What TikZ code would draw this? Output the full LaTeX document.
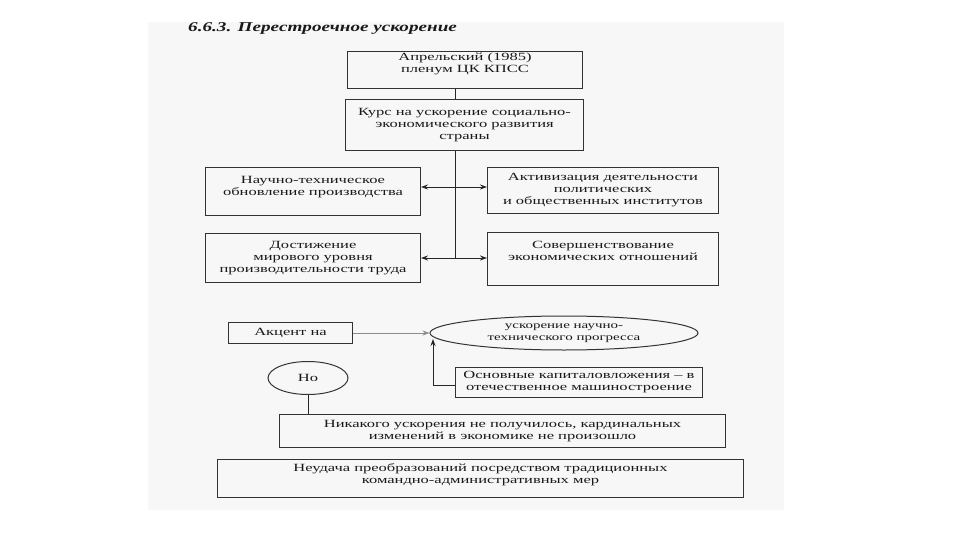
\documentclass[tikz,border=0pt]{standalone}
\usepackage{fontspec}
\setmainfont{Liberation Serif}[FakeStretch=1.5]
\newfontfamily\titlefont{Liberation Serif}[FakeStretch=1.42]
\usetikzlibrary{arrows.meta,shapes.geometric}
\tikzset{
  box/.style={draw=black!80, line width=1pt, align=center, inner sep=0pt, font=\fontsize{11}{12}\selectfont, text=black!90},
  link/.style={draw=black!85, line width=1pt},
  arr/.style={link, -{Stealth[length=7pt,width=5pt]}},
  softarr/.style={draw=black!45, line width=0.6pt, -{Stealth[length=7pt,width=5pt]}}
}
\begin{document}
\begin{tikzpicture}[x=1pt,y=-1pt]
\useasboundingbox (0,0) rectangle (960,540);
\fill[white] (0,0) rectangle (960,540);
\fill[black!3] (148,22) rectangle (784,510);
\node[anchor=base west, font=\titlefont\fontsize{13.5}{15}\selectfont\bfseries\itshape, text=black!90, inner sep=0pt] (title) at (188,32) {6.6.3. Перестроечное ускорение};

\node[box, minimum width=235pt, minimum height=37pt, anchor=north west, text depth=14pt] (b1) at (347,51) {Апрельский (1985)\\пленум ЦК КПСС};
\node[box, minimum width=238pt, minimum height=51pt, anchor=north west] (b2) at (345,99) {Курс на ускорение социально-\\экономического развития\\страны};
\node[box, minimum width=215pt, minimum height=48pt, anchor=north west, text depth=12pt] (b3) at (205,167) {Научно-техническое\\обновление производства};
\node[box, minimum width=231pt, minimum height=46pt, anchor=north west] (b4) at (487,167) {Активизация деятельности\\политических\\и общественных институтов};
\node[box, minimum width=215pt, minimum height=49pt, anchor=north west] (b5) at (205,233) {Достижение\\мирового уровня\\производительности труда};
\node[box, minimum width=231pt, minimum height=53pt, anchor=north west, text depth=16pt] (b6) at (487,232) {Совершенствование\\экономических отношений};

\coordinate (j1) at (455,187);
\coordinate (j2) at (455,258);
\draw[link] (b1.south -| j1) -- (b2.north -| j1);
\draw[link] (b2.south -| j1) -- (j2);
\draw[arr] (j1) -- (b3.east |- j1);
\draw[arr] (j1) -- (b4.west |- j1);
\draw[arr] (j2) -- (b5.east |- j2);
\draw[arr] (j2) -- (b6.west |- j2);

\node[box, minimum width=124pt, minimum height=21pt, anchor=north west] (acc) at (228,322) {Акцент на};
\node[box, ellipse, minimum width=268pt, minimum height=34pt, font=\fontsize{10}{11.5}\selectfont] (ell) at (564,333) {ускорение научно-\\технического прогресса};
\node[box, minimum width=247pt, minimum height=30pt, anchor=north west] (inv) at (455,367) {Основные капиталовложения -- в\\отечественное машиностроение};
\coordinate (up) at (433,339);
\draw[softarr] (acc.east) -- (ell.west |- acc.east);
\draw[arr] (inv.west |- 0,385) -| (up);

\node[box, ellipse, minimum width=80pt, minimum height=33pt] (no) at (308,378) {Но};
\node[box, minimum width=446pt, minimum height=33pt, anchor=north west] (res) at (279,414) {Никакого ускорения не получилось, кардинальных\\изменений в экономике не произошло};
\draw[link] (no.south) -- (no.south |- res.north);

\node[box, minimum width=526pt, minimum height=38pt, anchor=north west, text depth=10pt] (fail) at (217,459) {Неудача преобразований посредством традиционных\\командно-административных мер};
\end{tikzpicture}
\end{document}
